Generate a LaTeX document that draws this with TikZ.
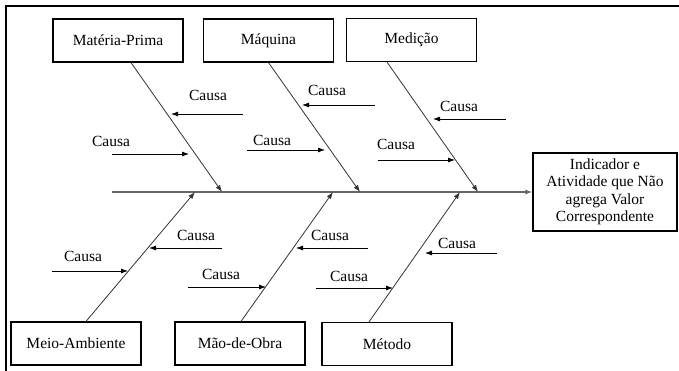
\documentclass[tikz,border=0pt]{standalone}
\usepackage{fontspec}
\newfontfamily\diagfont{Liberation Serif}[UprightFont=*, BoldFont=* Bold]
\usetikzlibrary{arrows.meta,calc}
\begin{document}
\begin{tikzpicture}[x=1pt,y=-1pt,
  cat/.style={draw, line width=1.2pt, minimum width=130pt, minimum height=43pt,
    inner sep=0pt, font=\diagfont\fontsize{15.5}{18}\selectfont},
  effect/.style={draw, line width=1.2pt, minimum width=144pt, minimum height=78pt,
    inner sep=0pt, align=center, font=\diagfont\fontsize{15.5}{17.5}\selectfont},
  lbl/.style={font=\diagfont\fontsize{15.5}{18}\selectfont, inner sep=0pt},
  tip/.style={-{Latex[length=7pt,width=5pt]}},
  bone/.style={draw=black!80, line width=0.8pt, tip},
  cause/.style={draw=black, line width=0.8pt, tip},
  spine/.style={draw=black!60, line width=1.4pt, tip}]
\useasboundingbox (0,0) rectangle (679,371);

% frame (top and left edges)
\draw[line width=2pt] (6,371) -- (6,6) -- (679,6);

% category boxes
\node[cat] (mp)  at (118,40.5)   {Matéria-Prima};
\node[cat] (mq)  at (268.5,40.5) {Máquina};
\node[cat] (md)  at (411.5,40)   {Medição};
\node[cat] (ma)  at (76,343.5)   {Meio-Ambiente};
\node[cat] (mo)  at (240,343.5)  {Mão-de-Obra};
\node[cat] (mt)  at (387,344)    {Método};

% effect box
\node[effect] (ef) at (605,192)
  {Indicador e\\Atividade que Não\\agrega Valor\\Correspondente};

% spine
\coordinate (sp0) at (112,192);
\draw[spine] (sp0) -- (ef.west);

% bones
\coordinate (mpA) at ($(mp.south)+(13,0)$);
\coordinate (mqA) at (mq.south);
\coordinate (mdA) at ($(md.south)+(-24.5,0)$);
\coordinate (maA) at ($(ma.north)+(10,0)$);
\coordinate (moA) at ($(mo.north)+(1,0)$);
\coordinate (mtA) at ($(mt.north)+(-18,0)$);
\coordinate (mpB) at (222,192);
\coordinate (mqB) at (360,192);
\coordinate (mdB) at (478,192);
\coordinate (maB) at (195,192);
\coordinate (moB) at (333,192);
\coordinate (mtB) at (460,192);
\draw[bone] (mpA) -- (mpB);
\draw[bone] (mqA) -- (mqB);
\draw[bone] (mdA) -- (mdB);
\draw[bone] (maA) -- (maB);
\draw[bone] (moA) -- (moB);
\draw[bone] (mtA) -- (mtB);

% causes: Matéria-Prima
\node[lbl] (c1) at (208,95)  {Causa};
\coordinate (c1s) at (243,114); \coordinate (c1e) at (171,114);
\draw[cause] (c1s) -- (c1e);
\node[lbl] (c2) at (111,141) {Causa};
\coordinate (c2s) at (112,154); \coordinate (c2e) at (189,154);
\draw[cause] (c2s) -- (c2e);

% causes: Máquina
\node[lbl] (c3) at (327,90)  {Causa};
\coordinate (c3s) at (375,105); \coordinate (c3e) at (302,105);
\draw[cause] (c3s) -- (c3e);
\node[lbl] (c4) at (272,140) {Causa};
\coordinate (c4s) at (247,150); \coordinate (c4e) at (325,150);
\draw[cause] (c4s) -- (c4e);

% causes: Medição
\node[lbl] (c5) at (459,106) {Causa};
\coordinate (c5s) at (506,119); \coordinate (c5e) at (433,119);
\draw[cause] (c5s) -- (c5e);
\node[lbl] (c6) at (396,144) {Causa};
\coordinate (c6s) at (378,160); \coordinate (c6e) at (455,160);
\draw[cause] (c6s) -- (c6e);

% causes: Meio-Ambiente
\node[lbl] (c7) at (196,235) {Causa};
\coordinate (c7s) at (222,248); \coordinate (c7e) at (149,248);
\draw[cause] (c7s) -- (c7e);
\node[lbl] (c8) at (83,256)  {Causa};
\coordinate (c8s) at (52,271);  \coordinate (c8e) at (128,271);
\draw[cause] (c8s) -- (c8e);

% causes: Mão-de-Obra
\node[lbl] (c9) at (330,235) {Causa};
\coordinate (c9s) at (368,248); \coordinate (c9e) at (296,248);
\draw[cause] (c9s) -- (c9e);
\node[lbl] (c10) at (221,274) {Causa};
\coordinate (c10s) at (188,287); \coordinate (c10e) at (266,287);
\draw[cause] (c10s) -- (c10e);

% causes: Método
\node[lbl] (c11) at (457,243) {Causa};
\coordinate (c11s) at (497,253); \coordinate (c11e) at (425,253);
\draw[cause] (c11s) -- (c11e);
\node[lbl] (c12) at (349,276) {Causa};
\coordinate (c12s) at (316,288); \coordinate (c12e) at (393,288);
\draw[cause] (c12s) -- (c12e);
\end{tikzpicture}
\end{document}
